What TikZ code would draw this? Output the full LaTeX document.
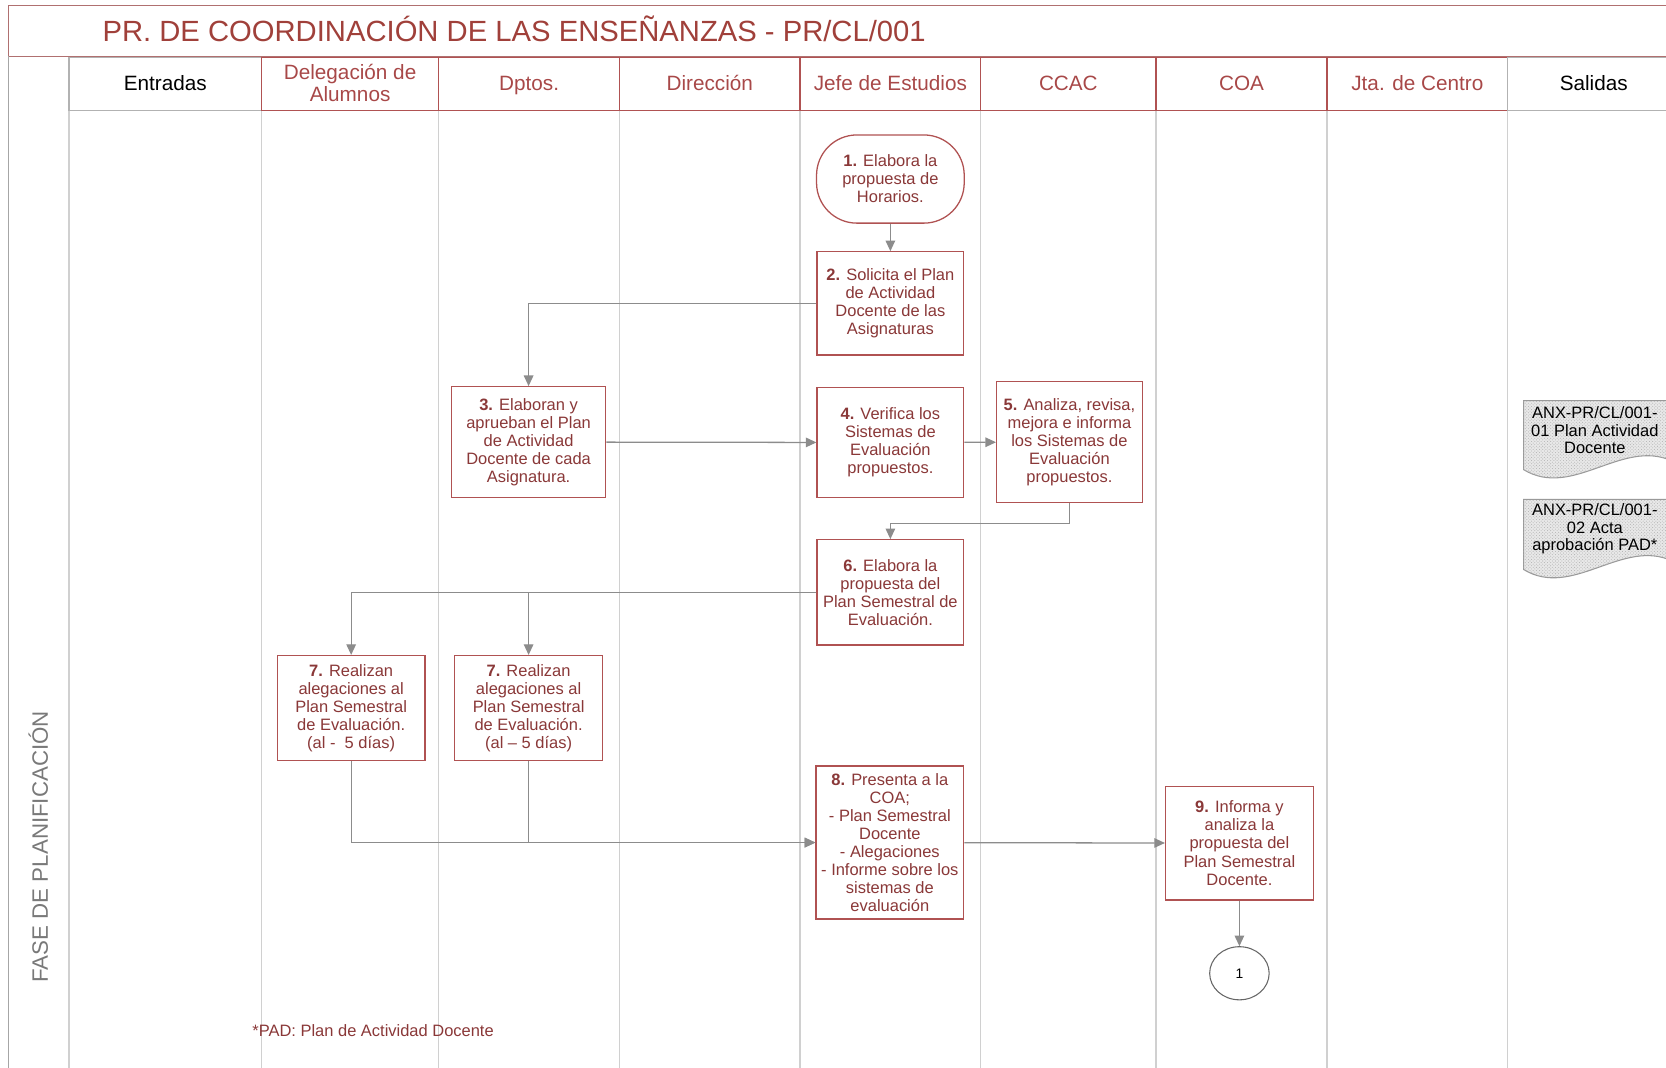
\documentclass[tikz,border=0pt]{standalone}
\usepackage{fontspec}
\setmainfont{Liberation Sans}
\usetikzlibrary{arrows.meta,patterns,shapes.geometric}
\definecolor{titulo}{HTML}{A0403A}
\definecolor{cabtxt}{HTML}{A84848}
\definecolor{texto}{HTML}{8A3838}
\definecolor{borde}{HTML}{B05252}
\definecolor{marco}{HTML}{B07070}
\definecolor{carril}{HTML}{D0D0D0}
\definecolor{flecha}{HTML}{8C8C8C}
\newcommand{\paso}[1]{\textbf{#1}}
\newcommand{\fuente}{\fontsize{15.5}{17}\selectfont}

\tikzset{
  tarea/.style={draw=borde, line width=1.2pt, fill=white, text=texto, align=center,
    font=\fuente, inner sep=1pt},
  cabecera/.style={align=center, font=\fontsize{19.5}{21}\selectfont},
  conector/.style={draw=flecha, line width=1.2pt, -{Triangle[length=10pt,width=9pt]}},
  documento/.style={fill=gray!18, draw=gray!80, line width=1pt}
}

\begin{document}
\begin{tikzpicture}[x=1pt,y=-1pt]
   \useasboundingbox (0,0) rectangle (1568,1005);
   \draw[marco, line width=1.2pt] (8,5) rectangle (1590,53);
   \node[text=titulo, anchor=west, font=\fontsize{27.5}{30}\selectfont] (tit) at (93,27)
      {PR. DE COORDINACIÓN DE LAS ENSEÑANZAS - PR/CL/001};
   \draw[gray!70, line width=1.2pt] (8,53) -- (8,1010);
   \foreach \x in {65,246,413,583,753,923,1088,1249,1419}
      \draw[carril, line width=1.2pt] (\x,104) -- (\x,1010);
   \foreach \xa/\xb/\yc/\col/\tcol/\txt [count=\i] in
      {65/246/81/gray!60/black/Entradas,
       246/413/78/borde/cabtxt/{Delegación de\\Alumnos},
       413/583/81/borde/cabtxt/Dptos.,
       583/753/81/borde/cabtxt/Dirección,
       753/923/81/borde/cabtxt/Jefe de Estudios,
       923/1088/81/borde/cabtxt/CCAC,
       1088/1249/81/borde/cabtxt/COA,
       1249/1419/81/borde/cabtxt/Jta. de Centro,
       1419/1581/81/gray!60/black/Salidas}
   {
      \draw[\col, line width=1.2pt] (\xa,54) rectangle (\xb,104);
      \node[cabecera, text=\tcol] (h\i) at ({(\xa+\xb)/2},\yc) {\strut\txt};
   }
   \node[rotate=90, text=gray!95!black, font=\fontsize{21}{23}\selectfont] (fase) at (36,797)
      {FASE DE PLANIFICACIÓN};

   \node[tarea, rounded corners=38pt, minimum width=139pt, minimum height=83pt] (p1) at (838,168.5)
      {\paso{1.} Elabora la\\propuesta de\\Horarios.};
   \node[tarea, minimum width=138pt, minimum height=97pt] (p2) at (838,285.5)
      {\paso{2.} Solicita el Plan\\de Actividad\\Docente de las\\Asignaturas};
   \node[tarea, minimum width=145pt, minimum height=104pt] (p3) at (497.5,416)
      {\paso{3.} Elaboran y\\aprueban el Plan\\de Actividad\\Docente de cada\\Asignatura.};
   \node[tarea, minimum width=138pt, minimum height=103pt] (p4) at (838,416.5)
      {\paso{4.} Verifica los\\Sistemas de\\Evaluación\\propuestos.};
   \node[tarea, minimum width=137pt, minimum height=114pt] (p5) at (1006.5,416)
      {\paso{5.} Analiza, revisa,\\mejora e informa\\los Sistemas de\\Evaluación\\propuestos.};
   \node[tarea, minimum width=138pt, minimum height=99pt] (p6) at (838,557.5)
      {\paso{6.} Elabora la\\propuesta del\\Plan Semestral de\\Evaluación.};
   \node[tarea, minimum width=139pt, minimum height=99pt] (p7a) at (330.5,666.5)
      {\paso{7.} Realizan\\alegaciones al\\Plan Semestral\\de Evaluación.\\(al -\ \ 5 días)};
   \node[tarea, minimum width=139pt, minimum height=99pt] (p7b) at (497.5,666.5)
      {\paso{7.} Realizan\\alegaciones al\\Plan Semestral\\de Evaluación.\\(al – 5 días)};
   \node[tarea, minimum width=139pt, minimum height=144pt] (p8) at (837.5,793)
      {\paso{8.} Presenta a la\\COA;\\- Plan Semestral\\Docente\\- Alegaciones\\- Informe sobre los\\sistemas de\\evaluación};
   \node[tarea, minimum width=139pt, minimum height=107pt] (p9) at (1166.5,793.5)
      {\paso{9.} Informa y\\analiza la\\propuesta del\\Plan Semestral\\Docente.};
   \node[ellipse, draw=gray!80!black, line width=1pt, minimum width=56pt, minimum height=50pt,
      font=\fontsize{13}{15}\selectfont] (c1) at (1166.5,916) {1};

   \draw[conector] (p1) -- (p2);
   \draw[conector] (p2.west) -| (p3.north);
   \draw[conector] (p3) -- (p4);
   \draw[conector] (p4) -- (p5);
   \draw[conector] (p5.south) -- ++(0,19) -| (p6.north);
   \draw[conector] (p6.west) -| (p7a.north);
   \draw[conector] (p6.west -| p7b.north) -- (p7b.north);
   \draw[conector] (p7a.south) |- (p8.west);
   \draw[conector] (p7b.south) |- (p8.west);
   \draw[conector] (p8) -- (p9);
   \draw[conector] (p9) -- (c1);

   \filldraw[documento] (1434,377) -- (1574,377) -- (1574,434)
      .. controls (1527,412) and (1480,470) .. (1434,442) -- cycle;
   \fill[pattern=crosshatch dots, pattern color=gray!60] (1434,377) -- (1574,377) -- (1574,434)
      .. controls (1527,412) and (1480,470) .. (1434,442) -- cycle;
   \node[align=center, font=\fontsize{15.5}{16.5}\selectfont] (d1) at (1501,405)
      {ANX-PR/CL/001-\\01 Plan Actividad\\Docente};
   \filldraw[documento] (1434,470) -- (1574,470) -- (1574,528)
      .. controls (1527,506) and (1480,564) .. (1434,536) -- cycle;
   \fill[pattern=crosshatch dots, pattern color=gray!60] (1434,470) -- (1574,470) -- (1574,528)
      .. controls (1527,506) and (1480,564) .. (1434,536) -- cycle;
   \node[align=center, font=\fontsize{15.5}{16.5}\selectfont] (d2) at (1501,498)
      {ANX-PR/CL/001-\\02 Acta\\aprobación PAD*};

   \node[text=texto, anchor=west, font=\fuente] (nota) at (234,970)
      {*PAD: Plan de Actividad Docente};
\end{tikzpicture}
\end{document}
